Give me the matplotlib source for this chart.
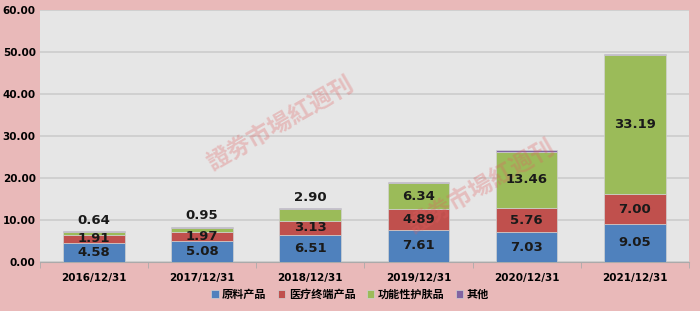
import matplotlib
matplotlib.use('Agg')
import matplotlib.pyplot as plt
import numpy as np

plt.rcParams['font.family'] = ['DejaVu Sans', 'Noto Sans CJK SC']

# Data
years = ['2016/12/31', '2017/12/31', '2018/12/31', '2019/12/31', '2020/12/31', '2021/12/31']
raw = [4.58, 5.08, 6.51, 7.61, 7.03, 9.05]
medical = [1.91, 1.97, 3.13, 4.89, 5.76, 7.00]
skincare = [0.64, 0.95, 2.90, 6.34, 13.46, 33.19]
other = [0.20, 0.40, 0.30, 0.30, 0.30, 0.30]
names = ['原料产品', '医疗终端产品', '功能性护肤品', '其他']
colors = ['#4F81BD', '#C0504D', '#9BBB59', '#8064A2']

fig = plt.figure(figsize=(7, 3.11), dpi=100)
fig.patch.set_facecolor('#E9B9B9')
ax = fig.add_axes([0.057, 0.158, 0.927, 0.81])
ax.set_facecolor('#E6E6E6')

x = np.arange(len(years))
w = 0.57
series = [raw, medical, skincare, other]
bottom = np.zeros(len(years))
for vals, c, n in zip(series, colors, names):
    ax.bar(x, vals, w, bottom=bottom, color=c, label=n, zorder=3,
           edgecolor='#D0D0D0', linewidth=0.5)
    bottom = bottom + np.array(vals)

# value labels
lab = dict(fontsize=9.5, fontweight='bold', color='#1a1a1a', ha='center', va='center', zorder=5)
for i in range(len(years)):
    ax.text(x[i], raw[i] / 2, f'{raw[i]:.2f}', **lab)
    ax.text(x[i], raw[i] + medical[i] / 2, f'{medical[i]:.2f}', **lab)
    if skincare[i] < 5:
        ax.text(x[i], raw[i] + medical[i] + skincare[i] + other[i] + 2.6,
                f'{skincare[i]:.2f}', **lab)
    else:
        ax.text(x[i], raw[i] + medical[i] + skincare[i] / 2, f'{skincare[i]:.2f}', **lab)

ax.set_ylim(0, 60)
ax.set_xlim(-0.5, len(years) - 0.5)
ax.set_yticks(np.arange(0, 61, 10))
ax.set_yticklabels([f'{v:.2f}' for v in np.arange(0, 61, 10)], fontsize=7.5, fontweight='bold')
ax.set_xticks(x)
ax.set_xticklabels(years, fontsize=7.5, fontweight='bold')
ax.set_xticks(np.arange(-0.5, len(years), 1), minor=True)
ax.tick_params(axis='x', which='major', length=0, pad=8)
ax.tick_params(axis='x', which='minor', length=4, color='#AAAAAA')
ax.tick_params(axis='y', length=0, pad=3)
ax.grid(axis='y', color='#CCCCCC', linewidth=1.2, zorder=0)
for s in ['left', 'right', 'top']:
    ax.spines[s].set_visible(False)
ax.spines['bottom'].set_color('#AAAAAA')

# watermarks
for wx, wy in [(0.37, 0.55), (0.68, 0.30)]:
    ax.text(wx, wy, '證劵市場紅週刊', transform=ax.transAxes, fontsize=17,
            family='Noto Sans CJK SC', fontweight='bold', color='#E06060', alpha=0.3,
            rotation=30, ha='center', va='center', zorder=4)

fig.legend(loc='lower center', bbox_to_anchor=(0.5, 0.0), ncol=4, frameon=False,
           handlelength=0.7, handleheight=0.7, handletextpad=0.3, columnspacing=1.0,
           prop={'family': 'Noto Sans CJK SC', 'size': 8, 'weight': 'bold'})

fig.savefig('out.png', dpi=100, facecolor=fig.get_facecolor())
